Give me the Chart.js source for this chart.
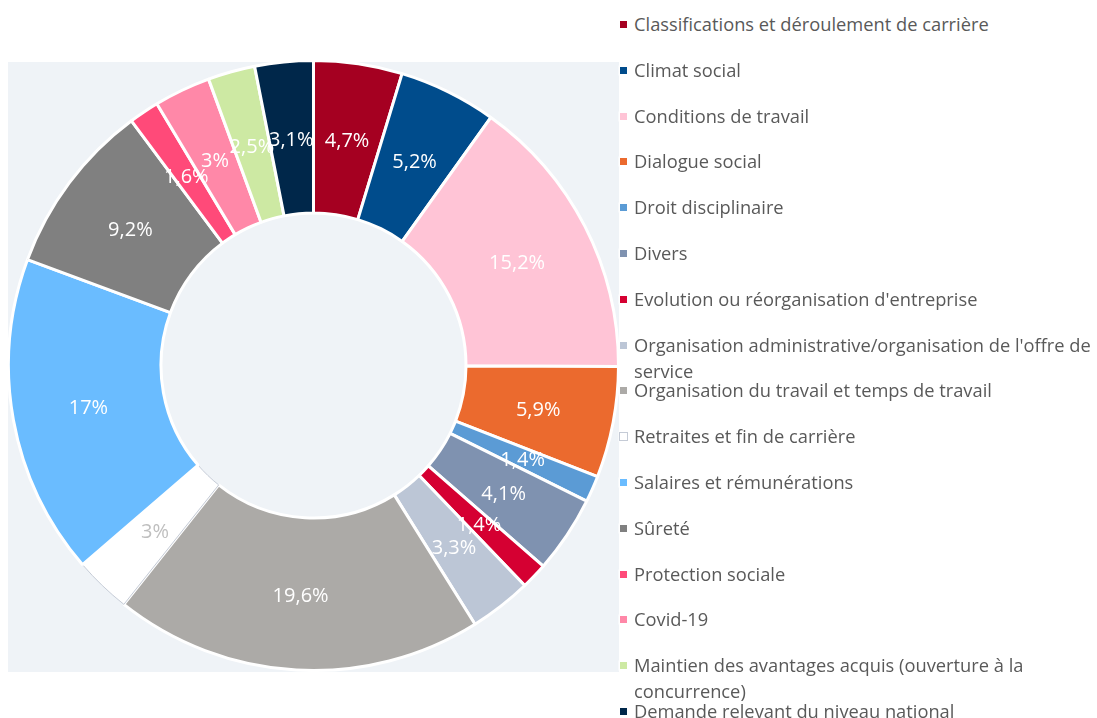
<!DOCTYPE html>
<html>
<head>
<meta charset="utf-8">
<script src="https://cdn.jsdelivr.net/npm/chart.js@4"></script>
<style>
  body { margin:0; background:#fff; width:1097px; height:718px; overflow:hidden; position:relative; font-family:'Open Sans', sans-serif; }
  #panel { position:absolute; left:8px; top:62px; width:611px; height:610px; background:#eff3f7; }
  #wrap { position:absolute; left:7px; top:59px; width:613px; height:613px; }
  #legend { position:absolute; left:0; top:0; }
  .li { position:absolute; left:620px; white-space:nowrap; color:#595959; font-size:18.3px; line-height:26px; }
  .li i { position:absolute; left:0; top:10px; width:7px; height:7px; box-shadow:0 0 0 1.5px #fff; }
  .li span { position:absolute; left:14px; top:0; }
</style>
</head>
<body>
<div id="panel"></div>
<div id="wrap"><canvas id="c"></canvas></div>
<div id="legend"></div>
<script>
// categories (each entry = lines of the legend text)
const categories = [
  ['Classifications et déroulement de carrière'],
  ['Climat social'],
  ['Conditions de travail'],
  ['Dialogue social'],
  ['Droit disciplinaire'],
  ['Divers'],
  ["Evolution ou réorganisation d'entreprise"],
  ["Organisation administrative/organisation de l'offre de", 'service'],
  ['Organisation du travail et temps de travail'],
  ['Retraites et fin de carrière'],
  ['Salaires et rémunérations'],
  ['Sûreté'],
  ['Protection sociale'],
  ['Covid-19'],
  ['Maintien des avantages acquis (ouverture à la', 'concurrence)'],
  ['Demande relevant du niveau national']
];
const shares = [4.7, 5.2, 15.2, 5.9, 1.4, 4.1, 1.4, 3.3, 19.6, 3, 17, 9.2, 1.6, 3, 2.5, 3.1];
const colors = ['#a50021','#004c8c','#ffc4d6','#eb6a2e','#5b9bd5','#7f92b0','#d50032','#bcc6d6',
                '#acaaa7','#ffffff','#6abcff','#808080','#ff4a79','#ff88a8','#cde9a3','#00274a'];

// legend
const leg = document.getElementById('legend');
categories.forEach((lines, i) => {
  const d = document.createElement('div');
  d.className = 'li';
  d.style.top = (11 + i * 45.8) + 'px';
  const sw = i === 9 ? 'background:#fff;outline:1px solid #c5cbd6;' : 'background:' + colors[i] + ';';
  d.innerHTML = '<i style="' + sw + '"></i><span>' + lines.join('<br>') + '</span>';
  leg.appendChild(d);
});

// labels drawn in the middle of each ring segment
const sliceLabels = {
  id: 'sliceLabels',
  afterDatasetsDraw(chart) {
    const ctx = chart.ctx;
    const meta = chart.getDatasetMeta(0);
    ctx.save();
    ctx.font = '20px "Open Sans", sans-serif';
    ctx.textAlign = 'center';
    ctx.textBaseline = 'middle';
    meta.data.forEach((arc, i) => {
      const p = arc.getProps(['x','y','startAngle','endAngle','innerRadius','outerRadius'], true);
      const a = (p.startAngle + p.endAngle) / 2;
      const r = (p.innerRadius + p.outerRadius) / 2;
      ctx.fillStyle = i === 9 ? '#bfbfbf' : '#ffffff';
      const txt = String(shares[i]).replace('.', ',') + '%';
      ctx.fillText(txt, p.x + Math.cos(a) * r, p.y + Math.sin(a) * r + 2);
    });
    ctx.restore();
  }
};

new Chart(document.getElementById('c'), {
  type: 'doughnut',
  data: {
    labels: categories.map(l => l.join(' ')),
    datasets: [{
      data: shares,
      backgroundColor: colors,
      borderColor: colors.map((c, i) => i === 9 ? '#c5cbd6' : '#ffffff'),
      borderWidth: colors.map((c, i) => i === 9 ? 1 : 3)
    }]
  },
  options: {
    responsive: true, maintainAspectRatio: false, animation: false,
    cutout: '50%',
    layout: { padding: 0 },
    plugins: { legend: { display: false }, tooltip: { enabled: false } }
  },
  plugins: [sliceLabels]
});
</script>
</body>
</html>
